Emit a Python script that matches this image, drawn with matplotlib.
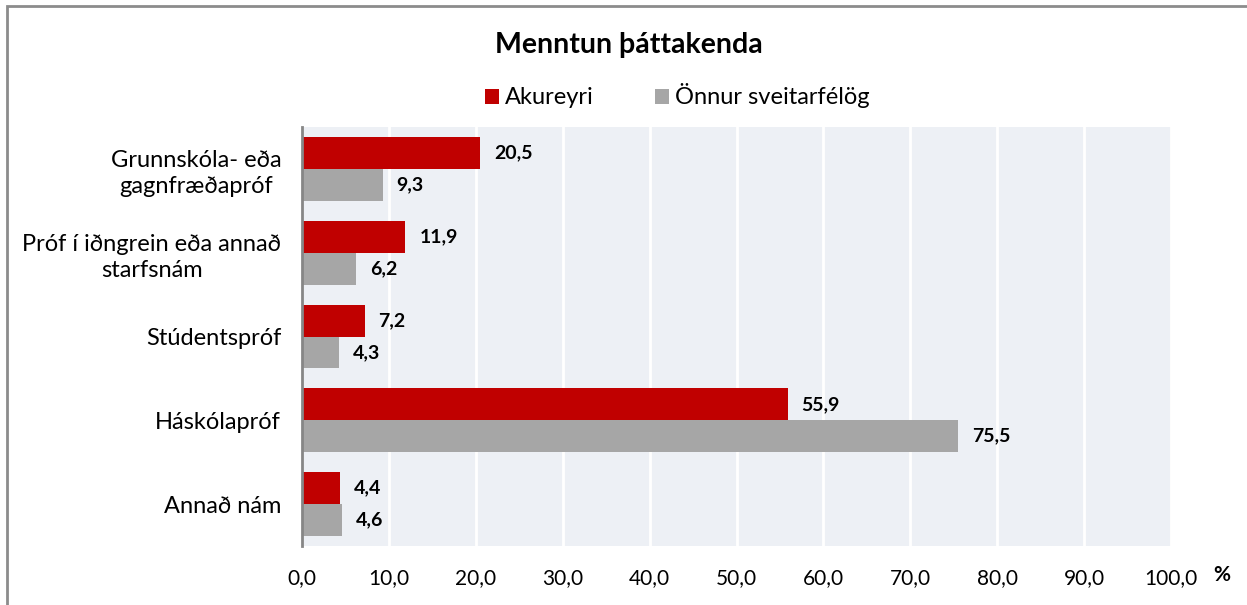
import matplotlib
matplotlib.use("Agg")
import matplotlib.pyplot as plt
import matplotlib.patches as mpatches
import numpy as np

plt.rcParams['font.family'] = ['Lato', 'DejaVu Sans']

# data
categories = ['Grunnskóla- eða\ngagnfræðapróf',
              'Próf í iðngrein eða annað\nstarfsnám',
              'Stúdentspróf',
              'Háskólapróf',
              'Annað nám']
akureyri = [20.5, 11.9, 7.2, 55.9, 4.4]
onnur = [9.3, 6.2, 4.3, 75.5, 4.6]
series_names = ['Akureyri', 'Önnur sveitarfélög']
xticks = np.arange(0, 101, 10)

red = '#C00000'
grey = '#A6A6A6'

W, H = 1247, 605
fig = plt.figure(figsize=(W / 100, H / 100), dpi=100)
ax = fig.add_axes([302 / W, 1 - 546 / H, (1171 - 302) / W, (546 - 127) / H])
ax.set_facecolor('#EDF0F5')

y = np.arange(len(categories))
h = 0.38
b1 = ax.barh(y - h / 2, akureyri, height=h, color=red, label=series_names[0])
b2 = ax.barh(y + h / 2, onnur, height=h, color=grey, label=series_names[1])

fmt = lambda v: ('%.1f' % v).replace('.', ',')
ax.bar_label(b1, labels=[fmt(v) for v in akureyri], padding=10,
             fontsize=14, fontweight='bold')
ax.bar_label(b2, labels=[fmt(v) for v in onnur], padding=10,
             fontsize=14, fontweight='bold')

ax.set_xlim(0, 100)
ax.set_ylim(len(categories) - 0.5, -0.5)
ax.set_xticks(xticks)
ax.set_xticklabels([fmt(v) for v in xticks], fontsize=15)
ax.set_yticks(y)
ax.set_yticklabels(categories, fontsize=17, multialignment='center',
                   linespacing=1.3)
ax.tick_params(axis='both', length=0)
ax.tick_params(axis='x', pad=16)
ax.tick_params(axis='y', pad=15)

ax.grid(axis='x', color='white', linewidth=2)
ax.set_axisbelow(True)
for s in ['top', 'right', 'bottom']:
    ax.spines[s].set_visible(False)
ax.spines['left'].set_color('#868686')
ax.spines['left'].set_linewidth(2)

fig.text(629 / W, 1 - 45 / H, 'Menntun þáttakenda', ha='center', va='center',
         fontsize=20.5, fontweight='bold')
fig.text(1222 / W, 1 - 575 / H, '%', ha='center', va='center',
         fontsize=15, fontweight='bold')

fig.legend(handles=[b1, b2], loc='center', bbox_to_anchor=(677 / W, 1 - 96 / H),
           ncol=2, frameon=False, fontsize=17, handlelength=0.6, handleheight=0.6,
           handletextpad=0.25, columnspacing=2.6)

# outer border of the chart area
fig.patches.append(mpatches.Rectangle((7 / W, -0.1), 1.2, 1 - 6 / H + 0.1,
                                      transform=fig.transFigure, fill=False,
                                      edgecolor='#8C8C8C', linewidth=2))

fig.savefig('out.png', dpi=100)
